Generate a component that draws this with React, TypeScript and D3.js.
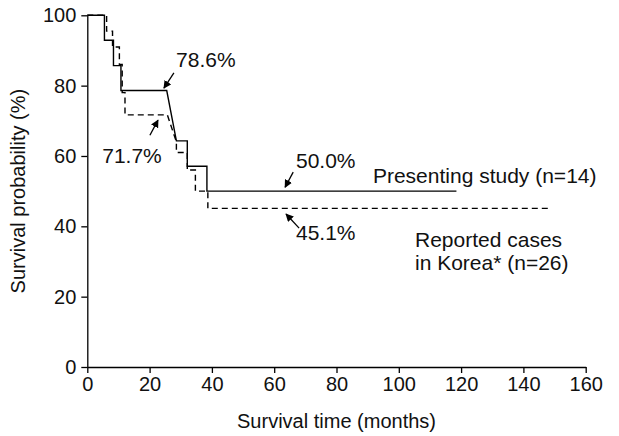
import React, { useEffect, useRef } from "react";
import * as d3 from "d3";

// Kaplan-Meier vertices (months, survival %)
const studyTimes = [0, 5.5, 5.5, 8.4, 8.4, 10.8, 10.8, 25.5, 28.6, 32.1, 32.1, 38.4, 38.4, 118.5];
const studySurv = [100, 100, 92.9, 92.9, 85.7, 85.7, 78.6, 78.6, 64.3, 64.3, 57.1, 57.1, 50, 50];

const koreaTimes = [0, 6.2, 6.2, 8.1, 8.1, 10.3, 10.3, 11.2, 11.2, 12.1, 12.1, 25.7, 28.6, 28.6, 32.1, 32.1, 34.7, 34.7, 38.7, 38.7, 149];
const koreaSurv = [100, 100, 95.5, 95.5, 91, 91, 86, 86, 78, 78, 71.7, 71.7, 64, 61, 61, 56, 56, 50, 50, 45.1, 45.1];

const xTicks = [0, 20, 40, 60, 80, 100, 120, 140, 160];
const yTicks = [0, 20, 40, 60, 80, 100];

// annotations: label, text x/y, arrow tail, arrow tip (data units)
const notes = [
  { text: "78.6%", tx: 28.5, ty: 85.2, from: [27.8, 83.6], to: [24.6, 79.3] },
  { text: "71.7%", tx: 4.8, ty: 58, from: [20.1, 65.9], to: [22.7, 70.2] },
  { text: "50.0%", tx: 67, ty: 56.5, from: [66.1, 55.4], to: [63.5, 51.1] },
  { text: "45.1%", tx: 67, ty: 36.1, from: [68, 39.5], to: [63.8, 43.5] },
];

const legendLines = [
  { text: "Presenting study (n=14)", tx: 91.7, ty: 52.3 },
  { text: "Reported cases", tx: 105.2, ty: 34.1 },
  { text: "in Korea* (n=26)", tx: 105.2, ty: 27.6 },
];

export default function App() {
  const ref = useRef<SVGSVGElement>(null);

  useEffect(() => {
    const svg = d3.select(ref.current);
    svg.selectAll("*").remove();
    const font = "'Liberation Sans', Arial, sans-serif";

    const x = d3.scaleLinear().domain([0, 160]).range([87.3, 585.7]);
    const y = d3.scaleLinear().domain([0, 100]).range([367, 15.3]);

    svg
      .append("defs")
      .append("marker")
      .attr("id", "head")
      .attr("viewBox", "0 0 10 10")
      .attr("refX", 9)
      .attr("refY", 5)
      .attr("markerWidth", 8)
      .attr("markerHeight", 8)
      .attr("markerUnits", "userSpaceOnUse")
      .attr("orient", "auto")
      .append("path")
      .attr("d", "M0,0L10,5L0,10z")
      .attr("fill", "#000");

    const xAxis = svg
      .append("g")
      .attr("transform", `translate(0,${y(0)})`)
      .call(d3.axisBottom(x).tickValues(xTicks).tickSizeInner(6).tickSizeOuter(0).tickPadding(4));
    const yAxis = svg
      .append("g")
      .attr("transform", `translate(${x(0)},0)`)
      .call(d3.axisLeft(y).tickValues(yTicks).tickSizeInner(6).tickSizeOuter(0).tickPadding(5));
    [xAxis, yAxis].forEach((g) => {
      g.selectAll("path,line").attr("stroke", "#000").attr("stroke-width", 1.3);
      g.selectAll("text").attr("font-family", font).attr("font-size", 20).attr("fill", "#111");
    });

    const draw = (ts: number[], ss: number[], dash: string | null) => {
      const pts = ts.map((t, i) => [t, ss[i]] as [number, number]);
      svg
        .append("path")
        .attr("d", d3.line<[number, number]>().x((d) => x(d[0])).y((d) => y(d[1]))(pts))
        .attr("fill", "none")
        .attr("stroke", "#000")
        .attr("stroke-width", 1.4)
        .attr("stroke-dasharray", dash);
    };
    draw(studyTimes, studySurv, null);
    draw(koreaTimes, koreaSurv, "6,4");

    notes.forEach((n) => {
      svg
        .append("line")
        .attr("x1", x(n.from[0]))
        .attr("y1", y(n.from[1]))
        .attr("x2", x(n.to[0]))
        .attr("y2", y(n.to[1]))
        .attr("stroke", "#000")
        .attr("stroke-width", 1.3)
        .attr("marker-end", "url(#head)");
    });

    svg
      .append("g")
      .selectAll("text")
      .data([...notes, ...legendLines])
      .join("text")
      .attr("x", (d) => x(d.tx))
      .attr("y", (d) => y(d.ty))
      .attr("font-family", font)
      .attr("font-size", 21)
      .attr("fill", "#111")
      .text((d) => d.text);

    svg
      .append("text")
      .attr("x", (x(0) + x(160)) / 2)
      .attr("y", 428)
      .attr("text-anchor", "middle")
      .attr("font-family", font)
      .attr("font-size", 20)
      .attr("fill", "#111")
      .text("Survival time (months)");

    svg
      .append("text")
      .attr("transform", `translate(25,${(y(0) + y(100)) / 2}) rotate(-90)`)
      .attr("text-anchor", "middle")
      .attr("font-family", font)
      .attr("font-size", 20)
      .attr("fill", "#111")
      .text("Survival probability (%)");
  }, []);

  return (
    <div style={{ position: "fixed", left: 0, top: 0, width: 619, height: 436, background: "#fff" }}>
      <svg ref={ref} width={619} height={436} />
    </div>
  );
}
